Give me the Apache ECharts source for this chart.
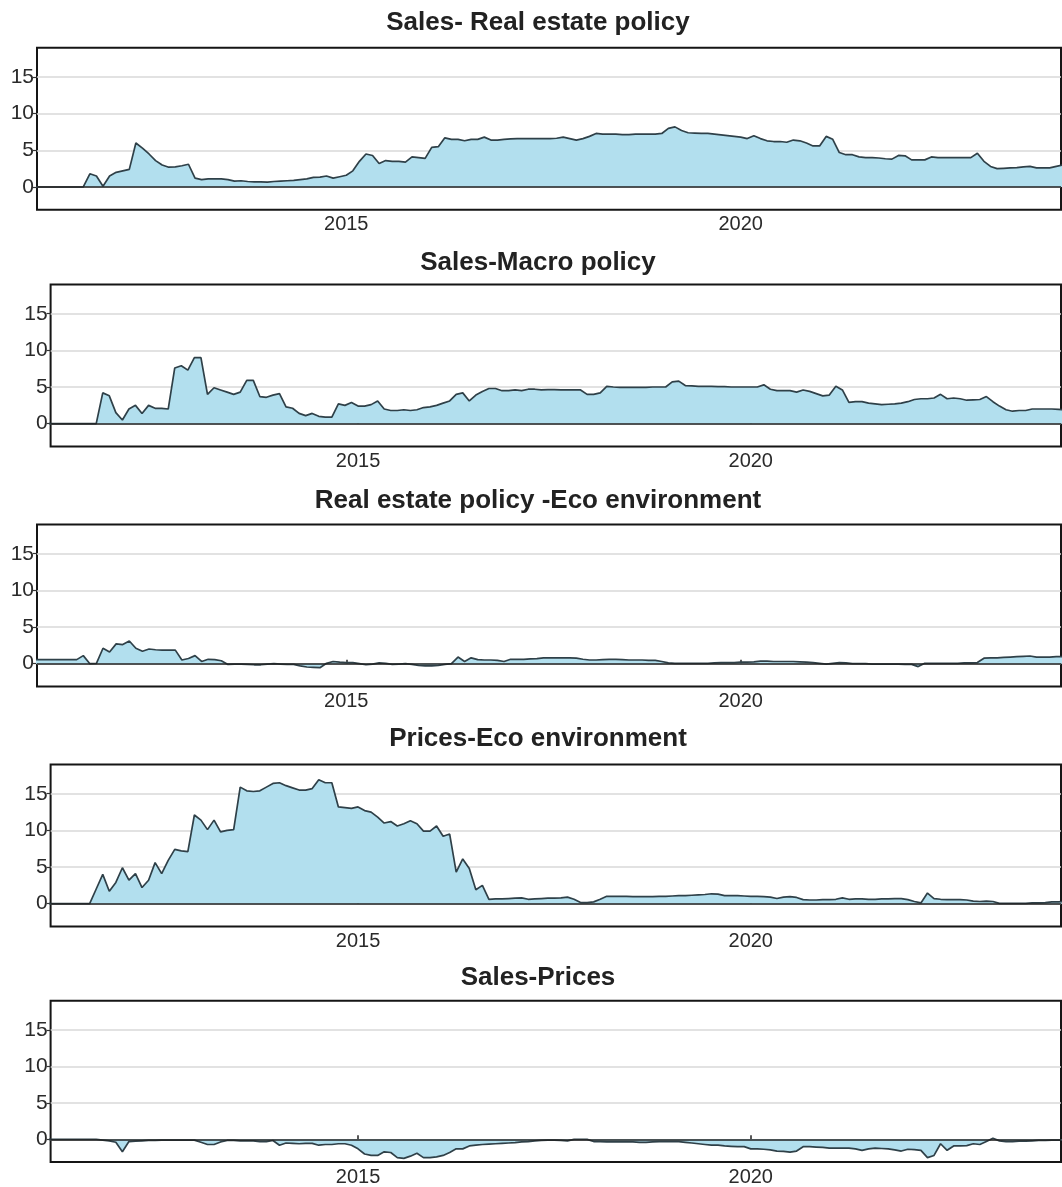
<!DOCTYPE html>
<html>
<head>
<meta charset="utf-8">
<script src="https://cdn.jsdelivr.net/npm/echarts@6/dist/echarts.min.js"></script>
<style>
html,body{margin:0;padding:0;background:#fff;}
#c{width:1062px;height:1187px;}
</style>
</head>
<body>
<div id="c"></div>
<script>
// ---------- DATA (monthly, first value = Jan 2011) ----------
const startYear = 2011;
const titles = [
  'Sales- Real estate policy',
  'Sales-Macro policy',
  'Real estate policy -Eco environment',
  'Prices-Eco environment',
  'Sales-Prices'
];
const xTicks = [2015, 2020];
const yTicks = [0, 5, 10, 15];

const salesRealEstate = [
  0,0,0,0,0,0,0,0,0,1.8,1.5,0.1,
  1.5,2.0,2.2,2.4,6.0,5.3,4.5,3.6,3.0,2.7,2.75,2.9,
  3.1,1.2,1.0,1.1,1.1,1.1,1.0,0.8,0.85,0.75,0.7,0.7,
  0.65,0.75,0.8,0.85,0.9,1.0,1.1,1.3,1.35,1.5,1.2,1.4,
  1.6,2.2,3.5,4.5,4.3,3.2,3.6,3.5,3.5,3.4,4.1,4.0,
  3.9,5.4,5.5,6.7,6.5,6.5,6.3,6.5,6.5,6.8,6.4,6.4,
  6.5,6.55,6.6,6.6,6.6,6.6,6.6,6.6,6.65,6.8,6.6,6.4,
  6.6,6.9,7.3,7.2,7.2,7.2,7.15,7.15,7.2,7.2,7.2,7.2,
  7.3,8.0,8.2,7.7,7.4,7.35,7.3,7.3,7.2,7.1,7.0,6.9,
  6.8,6.6,7.0,6.6,6.3,6.2,6.2,6.1,6.4,6.3,6.0,5.6,
  5.6,6.9,6.5,4.7,4.4,4.4,4.1,4.0,4.0,3.95,3.85,3.8,
  4.3,4.25,3.7,3.7,3.7,4.1,4.0,4.0,4.0,4.0,4.0,4.0,
  4.6,3.5,2.8,2.5,2.55,2.6,2.65,2.75,2.8,2.6,2.6,2.6,
  2.8,3.0
];
const salesMacro = [
  0,0,0,0,0,0,0,0,0,4.2,3.8,1.5,
  0.5,2.0,2.5,1.4,2.5,2.1,2.1,2.0,7.6,7.9,7.3,9.0,
  9.0,4.0,4.9,4.6,4.3,4.0,4.3,5.9,5.9,3.7,3.6,3.9,
  4.1,2.3,2.1,1.4,1.1,1.4,1.0,0.9,0.9,2.7,2.5,2.9,
  2.4,2.4,2.6,3.1,2.0,1.8,1.8,1.9,1.8,1.9,2.2,2.3,
  2.5,2.8,3.1,4.0,4.2,3.1,3.9,4.4,4.8,4.8,4.5,4.5,
  4.6,4.5,4.7,4.7,4.6,4.65,4.65,4.6,4.6,4.6,4.6,4.0,
  4.0,4.2,5.1,5.0,4.95,4.95,4.95,4.95,4.95,5.0,5.0,5.0,
  5.7,5.8,5.2,5.15,5.1,5.1,5.1,5.05,5.05,5.0,5.0,5.0,
  5.0,5.0,5.3,4.7,4.5,4.5,4.5,4.3,4.6,4.4,4.1,3.8,
  3.9,5.1,4.6,2.9,3.0,3.0,2.8,2.7,2.6,2.65,2.7,2.8,
  3.0,3.3,3.4,3.4,3.5,4.0,3.4,3.5,3.4,3.2,3.25,3.3,
  3.7,3.0,2.4,1.9,1.7,1.8,1.8,2.0,2.0,2.0,2.0,1.95,
  1.9,1.9
];
const realEstateEco = [
  0.55,0.55,0.55,0.55,0.55,0.55,0.55,0.55,1.1,0.0,0.05,2.1,
  1.6,2.7,2.6,3.1,2.1,1.7,2.0,1.9,1.85,1.85,1.85,0.5,
  0.7,1.1,0.3,0.6,0.55,0.4,-0.1,-0.05,-0.05,-0.1,-0.15,-0.15,
  -0.05,0,-0.05,-0.1,-0.1,-0.3,-0.45,-0.5,-0.55,0.05,0.3,0.2,
  0.15,0.15,0.0,-0.15,-0.05,0.1,0.05,-0.1,-0.05,0.0,-0.1,-0.25,
  -0.3,-0.3,-0.25,-0.1,0.0,0.9,0.3,0.8,0.55,0.5,0.5,0.45,
  0.3,0.6,0.6,0.6,0.65,0.7,0.8,0.8,0.8,0.8,0.8,0.75,
  0.6,0.5,0.5,0.55,0.6,0.6,0.55,0.5,0.5,0.5,0.45,0.45,
  0.3,0.1,0.05,0.05,0.05,0.05,0.05,0.05,0.1,0.15,0.15,0.15,
  0.2,0.2,0.25,0.35,0.35,0.3,0.3,0.3,0.3,0.25,0.2,0.15,
  0.05,-0.05,0.05,0.15,0.1,0.0,0.0,0.0,-0.05,-0.05,-0.05,-0.05,
  -0.05,-0.1,-0.1,-0.4,0.05,0.05,0.05,0.05,0.05,0.05,0.1,0.1,
  0.15,0.75,0.8,0.8,0.85,0.9,0.95,1.0,1.05,0.9,0.9,0.9,
  0.95,0.95
];
const pricesEco = [
  0,0,0,0,0,0,0,0,2.0,4.0,1.7,2.9,
  4.9,3.2,4.1,2.2,3.2,5.6,4.1,5.9,7.4,7.2,7.1,12.1,
  11.4,10.1,11.4,9.8,10.0,10.1,15.9,15.4,15.3,15.4,15.9,16.4,
  16.5,16.1,15.8,15.5,15.5,15.7,16.9,16.5,16.5,13.2,13.1,13.0,
  13.2,12.7,12.5,11.8,11.0,11.2,10.6,10.9,11.3,10.9,9.9,9.9,
  10.6,9.2,9.5,4.3,6.1,4.8,1.9,2.5,0.6,0.65,0.65,0.7,
  0.75,0.8,0.6,0.65,0.7,0.75,0.75,0.8,0.9,0.6,0.15,0.15,
  0.25,0.6,1.0,1.0,1.0,1.0,0.95,0.95,0.95,0.95,1.0,1.0,
  1.05,1.1,1.1,1.15,1.2,1.25,1.35,1.3,1.1,1.1,1.1,1.05,
  1.0,1.0,0.95,0.9,0.7,0.9,0.95,0.85,0.55,0.5,0.5,0.55,
  0.55,0.6,0.8,0.6,0.65,0.65,0.6,0.6,0.65,0.65,0.7,0.7,
  0.55,0.3,0.1,1.45,0.7,0.6,0.55,0.55,0.55,0.5,0.35,0.3,
  0.35,0.3,0.05,0.05,0.05,0.05,0.05,0.1,0.1,0.15,0.25,0.25,
  0.3,0.3
];
const salesPrices = [
  0,0,0,0,0,0,0,0,0,-0.1,-0.2,-0.4,
  -1.7,-0.3,-0.25,-0.2,-0.15,-0.15,-0.1,-0.1,-0.1,-0.1,-0.1,-0.1,
  -0.4,-0.7,-0.7,-0.35,-0.15,-0.15,-0.2,-0.2,-0.2,-0.3,-0.3,-0.15,
  -0.8,-0.5,-0.55,-0.6,-0.55,-0.55,-0.8,-0.7,-0.7,-0.6,-0.6,-0.8,
  -1.3,-2.0,-2.2,-2.2,-1.7,-1.8,-2.5,-2.6,-2.3,-1.9,-2.5,-2.5,
  -2.4,-2.2,-1.8,-1.3,-1.3,-0.9,-0.8,-0.7,-0.65,-0.6,-0.55,-0.5,
  -0.45,-0.35,-0.3,-0.2,-0.15,-0.1,-0.1,-0.15,-0.2,0,0,0,
  -0.3,-0.3,-0.35,-0.35,-0.35,-0.35,-0.35,-0.4,-0.4,-0.35,-0.3,-0.3,
  -0.3,-0.3,-0.4,-0.5,-0.6,-0.7,-0.8,-0.8,-0.9,-0.95,-1.0,-1.0,
  -1.3,-1.3,-1.35,-1.45,-1.6,-1.65,-1.75,-1.6,-1.0,-1.0,-1.05,-1.1,
  -1.2,-1.2,-1.2,-1.2,-1.3,-1.5,-1.3,-1.2,-1.25,-1.3,-1.45,-1.6,
  -1.35,-1.4,-1.5,-2.5,-2.2,-0.6,-1.5,-0.9,-0.9,-0.85,-0.6,-0.7,
  -0.3,0.15,-0.2,-0.3,-0.3,-0.25,-0.25,-0.2,-0.15,-0.15,-0.1,-0.1,
  -0.1,-0.1
];
const seriesValues = [salesRealEstate, salesMacro, realEstateEco, pricesEco, salesPrices];
const months = salesRealEstate.map((_, i) => startYear + i / 12);

// ---------- LAYOUT ----------
const layout = [
  {left: 37,   top: 47.7,   width: 1024,   xMin: 2011.08,  xMax: 2024.06, titleY: 22.7},
  {left: 50.6, top: 284.4,  width: 1010.4, xMin: 2011.086, xMax: 2023.95, titleY: 262.7},
  {left: 37,   top: 524.4,  width: 1024,   xMin: 2011.08,  xMax: 2024.06, titleY: 500.7},
  {left: 50.6, top: 764.4,  width: 1010.4, xMin: 2011.086, xMax: 2023.95, titleY: 739.3},
  {left: 50.6, top: 1000.7, width: 1010.4, xMin: 2011.086, xMax: 2023.95, titleY: 978.3}
];
const gridHeight = 162;
const yMin = -3.1, yMax = 19.0;
const FONT = '"Liberation Sans", Arial, Helvetica, sans-serif';

const grid = [], xAxis = [], yAxis = [], series = [], graphic = [];
layout.forEach((L, i) => {
  grid.push({
    left: L.left, top: L.top, width: L.width, height: gridHeight,
    show: true, borderColor: '#151515', borderWidth: 2, backgroundColor: '#fff',
    containLabel: false
  });
  xAxis.push({
    gridIndex: i, type: 'value', min: L.xMin, max: L.xMax,
    axisLine: {show: false},
    splitLine: {show: false},
    axisTick: {show: true, customValues: xTicks, inside: true, length: 4,
               lineStyle: {color: '#222', width: 1.5}},
    axisLabel: {customValues: xTicks, fontSize: 20, color: '#2a2a2a', margin: 5,
                fontFamily: FONT, formatter: v => String(Math.round(v))}
  });
  yAxis.push({
    gridIndex: i, type: 'value', min: yMin, max: yMax,
    axisLine: {show: false},
    axisTick: {show: true, customValues: yTicks, length: 4,
               lineStyle: {color: '#333', width: 1.2}},
    axisLabel: {customValues: yTicks, fontSize: 21, color: '#2a2a2a', margin: 3,
                fontFamily: FONT, formatter: v => String(Math.round(v))},
    splitLine: {show: true, lineStyle: {color: '#d8d8d8', width: 1.5}}
  });
  series.push({
    type: 'line', xAxisIndex: i, yAxisIndex: i,
    data: months.map((m, j) => [m, seriesValues[i][j]]),
    showSymbol: false, symbol: 'none', clip: true,
    lineStyle: {color: '#2f4048', width: 1.7},
    areaStyle: {color: '#b2dfee', opacity: 1},
    z: 2,
    markLine: {
      silent: true, symbol: 'none', animation: false,
      label: {show: false},
      lineStyle: {color: '#222', width: 1.6, type: 'solid'},
      data: [{yAxis: 0}]
    }
  });
  graphic.push({
    type: 'text', x: 538, y: L.titleY, silent: true,
    style: {
      text: titles[i], fill: '#222',
      font: 'bold 26px ' + FONT,
      align: 'center', verticalAlign: 'middle'
    }
  });
});

const chart = echarts.init(document.getElementById('c'), null, {renderer: 'canvas'});
chart.setOption({
  animation: false,
  backgroundColor: '#fff',
  grid, xAxis, yAxis, series, graphic
});
</script>
</body>
</html>
